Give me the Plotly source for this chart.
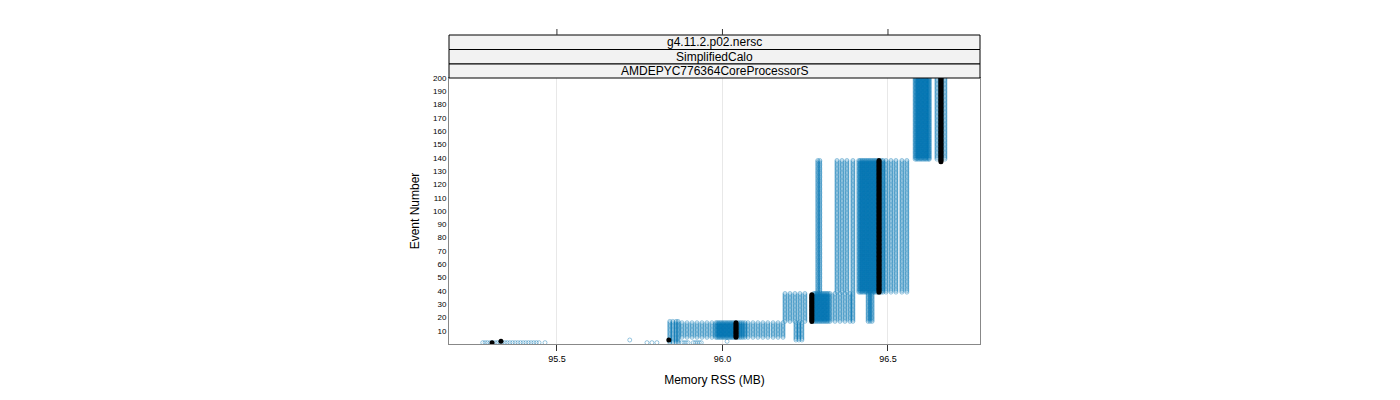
import plotly.graph_objects as go

# ---------------- data ----------------
# Each segment: a run of consecutive events, and the RSS values (MB) observed for them
seg_first_event = [139, 139, 39, 39, 17, 17, 5, 3, 1]
seg_last_event = [200, 200, 138, 138, 38, 38, 16, 16, 17]
seg_rss = [
    [96.582, 96.586, 96.590, 96.594, 96.598, 96.602, 96.606, 96.610, 96.614, 96.618, 96.622, 96.625],
    [96.648, 96.672],
    [96.346, 96.361, 96.376, 96.394, 96.412, 96.416, 96.420, 96.424, 96.428, 96.432, 96.436,
     96.440, 96.444, 96.448, 96.452, 96.456, 96.460, 96.464, 96.468, 96.480, 96.485,
     96.494, 96.509, 96.524, 96.542, 96.557],
    [96.288, 96.294],
    [96.189, 96.204, 96.219, 96.234, 96.249, 96.276, 96.280, 96.284, 96.288, 96.292, 96.296,
     96.300, 96.304, 96.308, 96.312, 96.316, 96.320, 96.325, 96.340, 96.355, 96.370, 96.385, 96.394],
    [96.440, 96.446, 96.452],
    [95.878, 95.893, 95.908, 95.923, 95.938, 95.953, 95.968, 95.980, 95.984, 95.988, 95.992,
     95.996, 96.000, 96.004, 96.008, 96.012, 96.016, 96.020, 96.024, 96.028, 96.032, 96.036,
     96.047, 96.052, 96.057, 96.062, 96.068, 96.077, 96.092, 96.107, 96.122, 96.137, 96.153,
     96.168, 96.183],
    [96.222, 96.231, 96.240],
    [95.841, 95.850, 95.860, 95.866],
]

# Isolated observations near the start of the run
single_event = [1, 1, 1, 1, 1, 1, 1, 1, 1, 1, 1, 1, 1, 1, 1, 1, 1, 1, 1, 1, 1, 1, 1, 1,
                3, 1, 1, 1, 1, 1, 1, 1, 1, 1, 1, 1, 1, 2]
single_rss = [95.276, 95.283, 95.290, 95.298, 95.305, 95.313, 95.320, 95.328, 95.335, 95.343,
              95.350, 95.358, 95.366, 95.374, 95.382, 95.390, 95.398, 95.406, 95.414, 95.422,
              95.430, 95.438, 95.446, 95.464,
              95.720, 95.772, 95.787, 95.802, 95.878, 95.884, 95.890, 95.896, 95.912, 95.918,
              95.924, 95.930, 95.936, 96.014]

# Median RSS per event
med_first_event = [137, 39, 17, 5]
med_last_event = [200, 138, 37, 16]
med_rss = [96.660, 96.473, 96.270, 96.041]
med_single_event = [1, 2, 3]
med_single_rss = [95.304, 95.331, 95.838]

x_ticks = [95.5, 96.0, 96.5]
x_tick_text = ["95.5", "96.0", "96.5"]
y_ticks = list(range(10, 201, 10))
strip_labels = ["g4.11.2.p02.nersc", "SimplifiedCalo", "AMDEPYC776364CoreProcessorS"]

# ---------------- build point lists ----------------
bx, by = [], []
for f, l, vals in zip(seg_first_event, seg_last_event, seg_rss):
    for v in vals:
        for e in range(f, l + 1):
            bx.append(v)
            by.append(e)
bx += single_rss
by += single_event

mx, my = [], []
for f, l, v in zip(med_first_event, med_last_event, med_rss):
    for e in range(f, l + 1):
        mx.append(v)
        my.append(e)
mx += med_single_rss
my += med_single_event

fig = go.Figure()
fig.add_trace(go.Scatter(
    x=bx, y=by, mode="markers",
    marker=dict(symbol="circle-open", size=4, color="rgba(0,114,178,0.4)",
                line=dict(width=1, color="rgba(0,114,178,0.4)")),
    hoverinfo="skip"))
fig.add_trace(go.Scatter(
    x=mx, y=my, mode="markers",
    marker=dict(symbol="circle", size=5, color="black"),
    hoverinfo="skip"))

# page body has an 8px margin; plot area target: x 449..980, y 78..344 (strips from 35)
H_PLOT = 309.0
dom_top = 266.0 / H_PLOT

fig.update_layout(
    width=1400, height=400,
    margin=dict(l=441, r=428, t=27, b=64),
    plot_bgcolor="white", paper_bgcolor="white",
    showlegend=False,
    font=dict(family="Liberation Sans, Arial, sans-serif", color="black"),
    xaxis=dict(range=[95.174, 96.778], tickvals=x_ticks, ticktext=x_tick_text,
               ticks="outside", ticklen=6, tickcolor="#333", tickfont=dict(size=9),
               showgrid=True, gridcolor="#e8e8e8", gridwidth=1, zeroline=False,
               showline=True, linecolor="#888", linewidth=1, mirror=True,
               title=dict(text="Memory RSS (MB)", font=dict(size=12), standoff=12)),
    yaxis=dict(range=[0, 200], domain=[0, dom_top], tickvals=y_ticks,
               ticks="", tickfont=dict(size=8), showgrid=False, zeroline=False,
               showline=True, linecolor="#888", linewidth=1, mirror=True,
               title=dict(text="Event Number", font=dict(size=12), standoff=10)),
)

# strips
bounds = [1.0, (344 - 49.5) / H_PLOT, (344 - 64) / H_PLOT, dom_top]
for i, lab in enumerate(strip_labels):
    y1, y0 = bounds[i], bounds[i + 1]
    fig.add_shape(type="rect", xref="paper", yref="paper", x0=0, x1=1, y0=y0, y1=y1,
                  fillcolor="#f2f2f2", line=dict(color="black", width=1), layer="above")
    fig.add_annotation(xref="paper", yref="paper", x=0.5, y=(y0 + y1) / 2, text=lab,
                       showarrow=False, font=dict(size=12), yanchor="middle")

# top tick marks above strips
for t in x_ticks:
    fig.add_shape(type="line", xref="x", yref="paper", x0=t, x1=t, y0=1.0, y1=1.0 + 6 / H_PLOT,
                  line=dict(color="#333", width=1))

fig.write_html("out.html")
